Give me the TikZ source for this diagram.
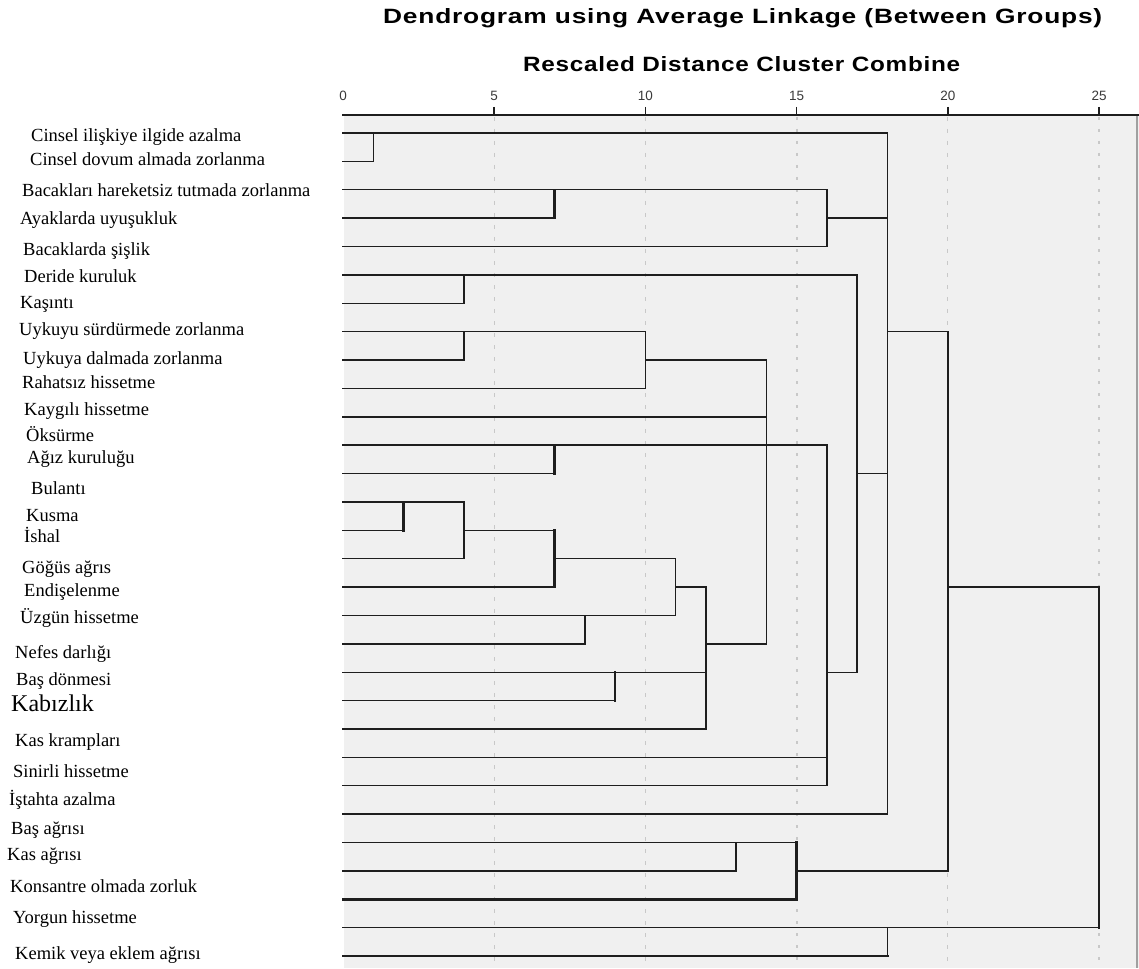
\documentclass[tikz,border=0pt]{standalone}
\usepackage{fontspec}
\usepackage{graphicx}
\setmainfont{Liberation Serif}
\newfontfamily\titlefont[LetterSpace=3]{Liberation Sans}
\newfontfamily\axisfont{Liberation Sans}
\definecolor{plotbg}{HTML}{F0F0F0}
\definecolor{gridc}{HTML}{C8C8C8}
\definecolor{linec}{HTML}{1E1E1E}
\definecolor{tickc}{HTML}{3A3A3A}
\newcommand\dx[1]{{343+30.24*(#1)}}
\newcommand\ly[1]{{133+28.38*(#1-1)}}
\begin{document}
\begin{tikzpicture}[x=1pt,y=-1pt,
  link/.style={draw=linec,line width=1.4pt,line cap=rect},
  tlink/.style={draw=linec,line width=2.5pt,line cap=rect},
  gridthin/.style={draw=gridc,line width=0.9pt,dash pattern=on 4pt off 8pt},
  griddot/.style={draw=gridc,line width=2.2pt,dash pattern=on 3pt off 9pt},
  tickmark/.style={draw=linec,line width=1.6pt},
  ticklab/.style={font=\axisfont\fontsize{13.5}{14}\selectfont,text=tickc,inner sep=0pt},
  lab/.style={font=\fontsize{18.5}{20}\selectfont,inner sep=0pt,anchor=base west},
  ttl/.style={inner sep=0pt,anchor=base west}]
\useasboundingbox (0,0) rectangle (1139,968);
% plot background
\fill[plotbg] (344,115) rectangle (1139,968);
\draw[gridc!80!black,line width=1.5pt] (1137,115) -- (1137,968);
% grid lines
\foreach \d in {5,10,20} \draw[gridthin] (\dx{\d},117) -- (\dx{\d},968);
\foreach \d in {15,25} \draw[griddot] (\dx{\d},117) -- (\dx{\d},968);
% axis
\coordinate (ax0) at (343,115);
\coordinate (ax1) at (1139,115);
\draw[link] (ax0) -- (ax1);
\foreach \d in {5,10,15,20,25} \draw[tickmark] (\dx{\d},107) -- (\dx{\d},115);
\node[ticklab] (t0) at (343,95.5) {0};
\node[ticklab] (t5) at (\dx{5},95.5) {5};
\node[ticklab] (t10) at (\dx{10},95.5) {10};
\node[ticklab] (t15) at (\dx{15},95.5) {15};
\node[ticklab] (t20) at (\dx{20},95.5) {20};
\node[ticklab] (t25) at (\dx{25},95.5) {25};
% titles
\node[ttl] (title) at (383,24) {\resizebox{719pt}{15pt}{\titlefont\bfseries Dendrogram using Average Linkage (Between Groups)}};
\node[ttl] (subtitle) at (523,72) {\resizebox{437pt}{15pt}{\titlefont\bfseries Rescaled Distance Cluster Combine}};
% leaves and merge columns
\foreach \i in {1,...,30} \coordinate (leaf\i) at (343,\ly{\i});
\foreach \d in {1,2,4,7,8,9,10,11,12,13,14,15,16,17,18,20,25} \coordinate (v\d) at (\dx{\d},0);
% leaf horizontals
\draw[link] (leaf1) -- (leaf1 -| v18);
\draw[link] (leaf2) -- (leaf2 -| v1);
\draw[link] (leaf3) -- (leaf3 -| v16);
\draw[link] (leaf4) -- (leaf4 -| v7);
\draw[link] (leaf5) -- (leaf5 -| v16);
\draw[link] (leaf6) -- (leaf6 -| v17);
\draw[link] (leaf7) -- (leaf7 -| v4);
\draw[link] (leaf8) -- (leaf8 -| v10);
\draw[link] (leaf9) -- (leaf9 -| v4);
\draw[link] (leaf10) -- (leaf10 -| v10);
\draw[link] (leaf11) -- (leaf11 -| v14);
\draw[link] (leaf12) -- (leaf12 -| v16);
\draw[link] (leaf13) -- (leaf13 -| v7);
\draw[link] (leaf14) -- (leaf14 -| v4);
\draw[link] (leaf15) -- (leaf15 -| v2);
\draw[link] (leaf16) -- (leaf16 -| v4);
\draw[link] (leaf17) -- (leaf17 -| v7);
\draw[link] (leaf18) -- (leaf18 -| v11);
\draw[link] (leaf19) -- (leaf19 -| v8);
\draw[link] (leaf20) -- (leaf20 -| v12);
\draw[link] (leaf21) -- (leaf21 -| v9);
\draw[link] (leaf22) -- (leaf22 -| v12);
\draw[link] (leaf23) -- (leaf23 -| v16);
\draw[link] (leaf24) -- (leaf24 -| v16);
\draw[link] (leaf25) -- (leaf25 -| v18);
\draw[link] (leaf26) -- (leaf26 -| v15);
\draw[link] (leaf27) -- (leaf27 -| v13);
\draw[tlink] (leaf28) -- (leaf28 -| v15);
\draw[link] (leaf29) -- (leaf29 -| v25);
\draw[tlink] (leaf30) -- (leaf30 -| v18);
% internal horizontals
\draw[link] (leaf4 -| v16) -- (leaf4 -| v18);
\draw[link] (leaf9 -| v10) -- (leaf9 -| v14);
\draw[link] (leaf15 -| v4) -- (leaf15 -| v7);
\draw[link] (leaf16 -| v7) -- (leaf16 -| v11);
\draw[link] (leaf17 -| v11) -- (leaf17 -| v12);
\draw[link] (leaf19 -| v12) -- (leaf19 -| v14);
\draw[link] (leaf20 -| v16) -- (leaf20 -| v17);
\draw[link] (leaf13 -| v17) -- (leaf13 -| v18);
\draw[link] (leaf8 -| v18) -- (leaf8 -| v20);
\draw[link] (leaf27 -| v15) -- (leaf27 -| v20);
\draw[link] (leaf17 -| v20) -- (leaf17 -| v25);
% verticals
\draw[link] (leaf1 -| v1) -- (leaf2 -| v1);
\draw[tlink] (leaf3 -| v7) -- (leaf4 -| v7);
\draw[link] (leaf3 -| v16) -- (leaf5 -| v16);
\draw[link] (leaf6 -| v4) -- (leaf7 -| v4);
\draw[link] (leaf8 -| v4) -- (leaf9 -| v4);
\draw[link] (leaf8 -| v10) -- (leaf10 -| v10);
\draw[tlink] (leaf12 -| v7) -- (leaf13 -| v7);
\draw[tlink] (leaf14 -| v2) -- (leaf15 -| v2);
\draw[link] (leaf14 -| v4) -- (leaf16 -| v4);
\draw[tlink] (leaf15 -| v7) -- (leaf17 -| v7);
\draw[link] (leaf18 -| v8) -- (leaf19 -| v8);
\draw[link] (leaf16 -| v11) -- (leaf18 -| v11);
\draw[tlink] (leaf20 -| v9) -- (leaf21 -| v9);
\draw[link] (leaf17 -| v12) -- (leaf22 -| v12);
\draw[link] (leaf9 -| v14) -- (leaf19 -| v14);
\draw[link] (leaf12 -| v16) -- (leaf24 -| v16);
\draw[link] (leaf6 -| v17) -- (leaf20 -| v17);
\draw[link] (leaf1 -| v18) -- (leaf25 -| v18);
\draw[link] (leaf26 -| v13) -- (leaf27 -| v13);
\draw[tlink] (leaf26 -| v15) -- (leaf28 -| v15);
\draw[link] (leaf8 -| v20) -- (leaf27 -| v20);
\draw[link] (leaf29 -| v18) -- (leaf30 -| v18);
\draw[tlink] (leaf17 -| v25) -- (leaf29 -| v25);
% labels
\node[lab] (lab1) at (31,142) {Cinsel ilişkiye ilgide azalma};
\node[lab] (lab2) at (30,166) {Cinsel dovum almada zorlanma};
\node[lab] (lab3) at (22,197) {Bacakları hareketsiz tutmada zorlanma};
\node[lab] (lab4) at (20,225) {Ayaklarda uyuşukluk};
\node[lab] (lab5) at (23,255) {Bacaklarda şişlik};
\node[lab] (lab6) at (24,282) {Deride kuruluk};
\node[lab] (lab7) at (20,308) {Kaşıntı};
\node[lab] (lab8) at (19,335) {Uykuyu sürdürmede zorlanma};
\node[lab] (lab9) at (23,364) {Uykuya dalmada zorlanma};
\node[lab] (lab10) at (22,388) {Rahatsız hissetme};
\node[lab] (lab11) at (24,415) {Kaygılı hissetme};
\node[lab] (lab12) at (26,441) {Öksürme};
\node[lab] (lab13) at (27,463) {Ağız kuruluğu};
\node[lab] (lab14) at (31,494) {Bulantı};
\node[lab] (lab15) at (26,521) {Kusma};
\node[lab] (lab16) at (24,542) {İshal};
\node[lab] (lab17) at (22,573) {Göğüs ağrıs};
\node[lab] (lab18) at (24,596) {Endişelenme};
\node[lab] (lab19) at (20,623) {Üzgün hissetme};
\node[lab] (lab20) at (15,658) {Nefes darlığı};
\node[lab] (lab21) at (16,685) {Baş dönmesi};
\node[lab,font=\fontsize{24}{26}\selectfont] (lab22) at (11,711) {Kabızlık};
\node[lab] (lab23) at (15,746) {Kas krampları};
\node[lab] (lab24) at (13,777) {Sinirli hissetme};
\node[lab] (lab25) at (9,805) {İştahta azalma};
\node[lab] (lab26) at (11,834) {Baş ağrısı};
\node[lab] (lab27) at (7,860) {Kas ağrısı};
\node[lab] (lab28) at (10,892) {Konsantre olmada zorluk};
\node[lab] (lab29) at (13,923) {Yorgun hissetme};
\node[lab] (lab30) at (15,959) {Kemik veya eklem ağrısı};
\end{tikzpicture}
\end{document}
